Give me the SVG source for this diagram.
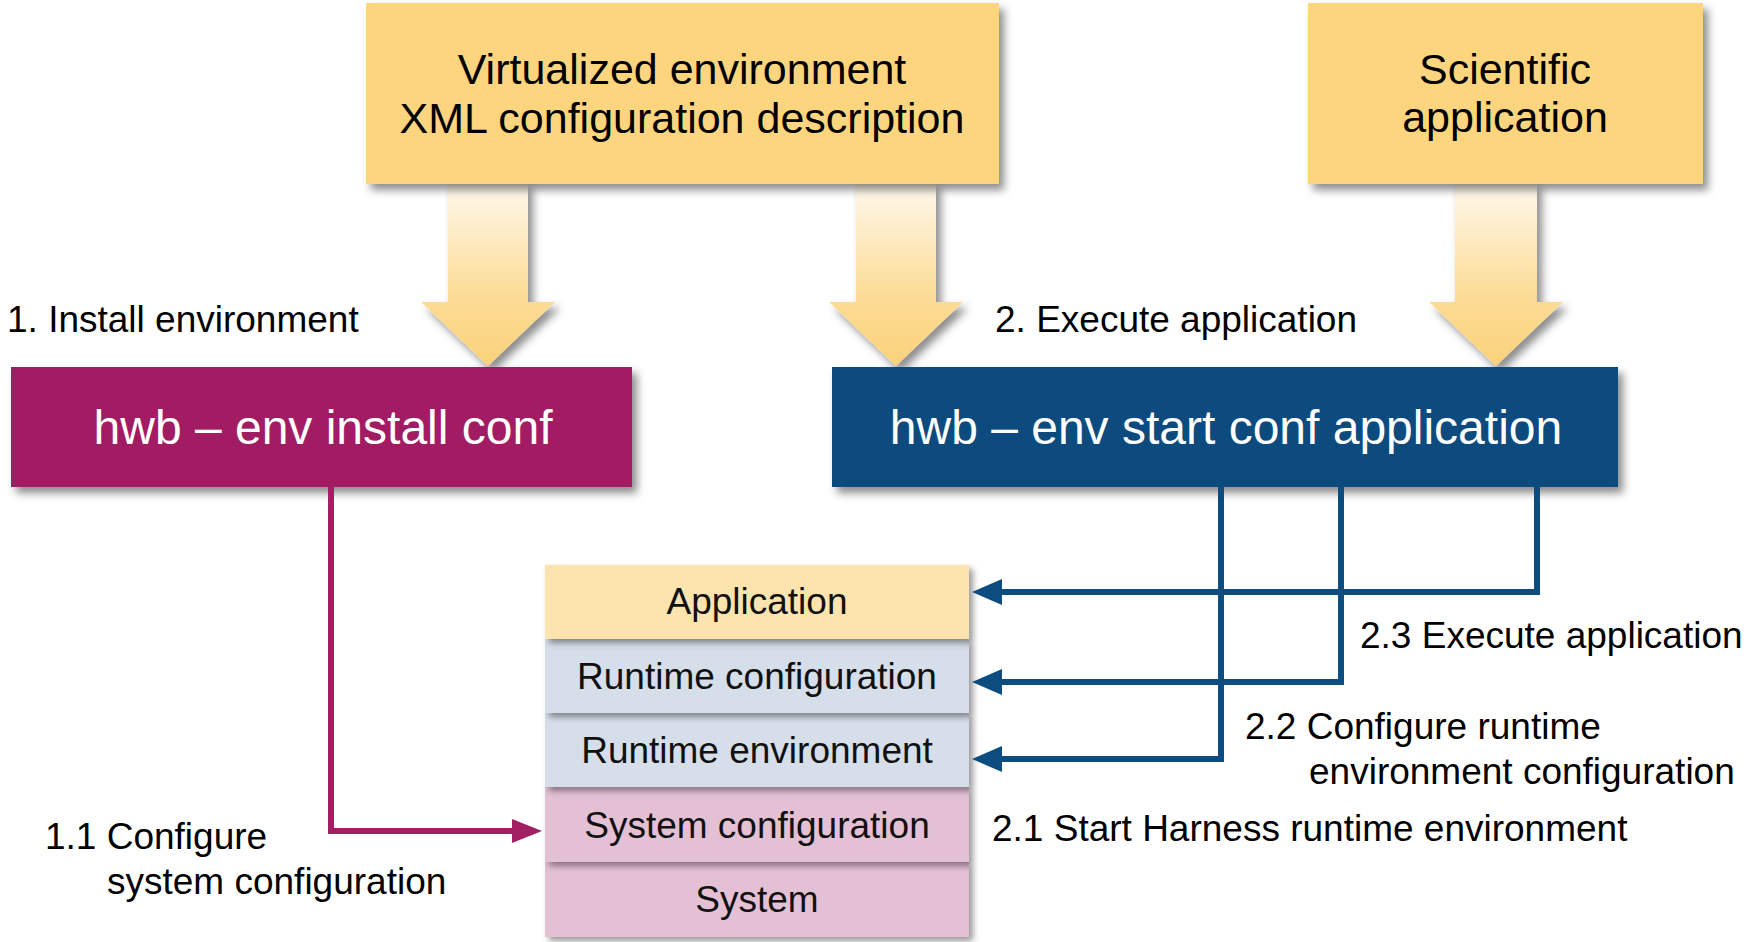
<svg xmlns="http://www.w3.org/2000/svg" width="1748" height="942" viewBox="0 0 1748 942">
<style>
  .lbl{font-family:"Liberation Sans",Arial,sans-serif;font-size:37px;fill:#000}
  .big{font-family:"Liberation Sans",Arial,sans-serif;font-size:43px;fill:#000;text-anchor:middle}
  .cmd{font-family:"Liberation Sans",Arial,sans-serif;font-size:48px;fill:#fff;text-anchor:middle}
  .layer{font-family:"Liberation Sans",Arial,sans-serif;font-size:37px;fill:#111;text-anchor:middle}
  .conn{fill:none;stroke-width:6}
</style>
<defs>
  <filter id="sh" x="-10%" y="-20%" width="130%" height="150%">
    <feDropShadow dx="5" dy="6" stdDeviation="4" flood-color="#000" flood-opacity="0.45"/>
  </filter>
  <filter id="shs" x="-10%" y="-20%" width="130%" height="150%">
    <feDropShadow dx="4" dy="4" stdDeviation="3" flood-color="#000" flood-opacity="0.4"/>
  </filter>
  <linearGradient id="ag" x1="0" y1="185" x2="0" y2="367" gradientUnits="userSpaceOnUse">
    <stop offset="0" stop-color="#fff8ec"/>
    <stop offset="0.6" stop-color="#fcdc96"/>
    <stop offset="1" stop-color="#fbd27c"/>
  </linearGradient>
  <marker id="mm" viewBox="0 0 30 24" refX="10" refY="12" markerWidth="30" markerHeight="24" markerUnits="userSpaceOnUse" orient="auto">
    <path d="M0,0 L30,12 L0,24 z" fill="#a21f64"/>
  </marker>
  <marker id="mb" viewBox="0 0 30 26" refX="10" refY="13" markerWidth="30" markerHeight="26" markerUnits="userSpaceOnUse" orient="auto">
    <path d="M0,0 L30,13 L0,26 z" fill="#0c4c7f"/>
  </marker>
</defs>
<rect width="1748" height="942" fill="#fff"/>

<g id="arrows-yellow" filter="url(#sh)">
  <path d="M448,183 H528 V302 H555 L488,366 L421,302 H448 Z" fill="url(#ag)"/>
  <path d="M856,183 H936 V302 H963 L896,366 L829,302 H856 Z" fill="url(#ag)"/>
  <path d="M1455,183 H1537 V302 H1563 L1496,366 L1429,302 H1455 Z" fill="url(#ag)"/>
</g>

<g id="xml-config">
  <rect x="366" y="3" width="633" height="181" fill="#fcd57e" filter="url(#sh)"/>
  <text class="big" x="682" y="84">Virtualized environment</text>
  <text class="big" x="682" y="133">XML configuration description</text>
</g>

<g id="scientific-app">
  <rect x="1308" y="3" width="395" height="181" fill="#fcd57e" filter="url(#sh)"/>
  <text class="big" x="1505" y="84">Scientific</text>
  <text class="big" x="1505" y="132">application</text>
</g>

<g id="install-cmd">
  <rect x="11" y="367" width="621" height="120" fill="#a21f64" filter="url(#sh)"/>
  <text class="cmd" x="323" y="444">hwb – env install conf</text>
</g>

<g id="start-cmd">
  <rect x="832" y="367" width="786" height="120" fill="#0c4c7f" filter="url(#sh)"/>
  <text class="cmd" x="1226" y="444">hwb – env start conf application</text>
</g>

<g id="layer-system">
  <rect x="545" y="862" width="424" height="75" fill="#e4c0d5" filter="url(#shs)"/>
  <text class="layer" x="757" y="912">System</text>
</g>
<g id="layer-system-config">
  <rect x="545" y="787" width="424" height="75" fill="#e4c0d5" filter="url(#shs)"/>
  <text class="layer" x="757" y="838">System configuration</text>
</g>
<g id="layer-runtime-env">
  <rect x="545" y="713" width="424" height="74" fill="#d5dee9" filter="url(#shs)"/>
  <text class="layer" x="757" y="763">Runtime environment</text>
</g>
<g id="layer-runtime-config">
  <rect x="545" y="639" width="424" height="74" fill="#d5dee9" filter="url(#shs)"/>
  <text class="layer" x="757" y="689">Runtime configuration</text>
</g>
<g id="layer-application">
  <rect x="545" y="565" width="424" height="74" fill="#fde4ae" filter="url(#shs)"/>
  <text class="layer" x="757" y="614">Application</text>
</g>

<g id="connectors">
  <path class="conn" d="M331,487 V831 H522" stroke="#a21f64" marker-end="url(#mm)"/>
  <path class="conn" d="M1537,487 V592 H992" stroke="#0c4c7f" marker-end="url(#mb)"/>
  <path class="conn" d="M1341,487 V682 H992" stroke="#0c4c7f" marker-end="url(#mb)"/>
  <path class="conn" d="M1221,487 V759 H992" stroke="#0c4c7f" marker-end="url(#mb)"/>
</g>

<g id="labels">
  <text class="lbl" x="7" y="332">1. Install environment</text>
  <text class="lbl" x="995" y="332">2. Execute application</text>
  <text class="lbl" x="1360" y="648">2.3 Execute application</text>
  <text class="lbl" x="1245" y="739">2.2 Configure runtime</text>
  <text class="lbl" x="1309" y="784">environment configuration</text>
  <text class="lbl" x="992" y="841">2.1 Start Harness runtime environment</text>
  <text class="lbl" x="45" y="849">1.1 Configure</text>
  <text class="lbl" x="107" y="894">system configuration</text>
</g>
</svg>
